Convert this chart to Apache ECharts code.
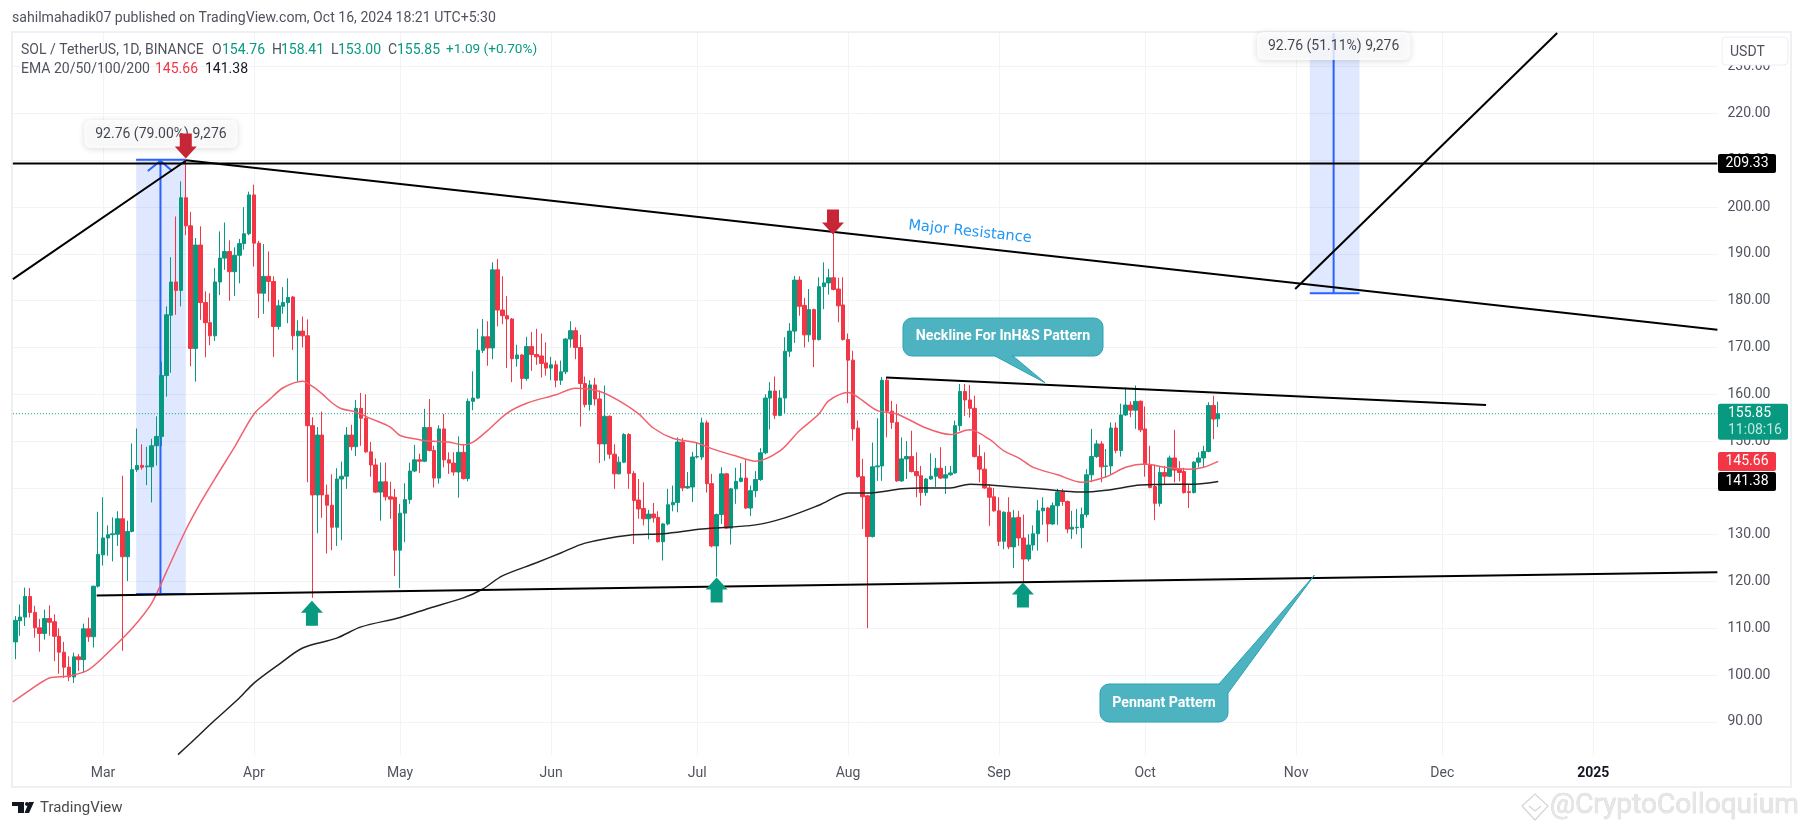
<!DOCTYPE html>
<html>
<head>
<meta charset="utf-8">
<title>SOL / TetherUS</title>
<script src="https://cdn.jsdelivr.net/npm/echarts@6/dist/echarts.min.js"></script>
<style>
	html, body { margin: 0; padding: 0; background: #fff; }
</style>
</head>
<body>
<div id="main" style="width: 1805px;height:828px;"></div>

<script type="text/javascript">
	// candles per month, each row is open, close, low, high
	var feb = [[107.1,111.7,103.4,112.6],[111.6,112.4,108.4,115.1],[112.4,116.8,110.5,118.7],[116.8,113.4,112.3,118.6],[113.4,110.1,108,114.8],[110.1,108.9,105,112],[108.9,112.1,107.6,114],[112.1,111.3,108.4,114.9],[111.4,108.3,103,113],[108.3,104.9,100.3,110],[104.9,101.7,99.4,107.1],[101.7,99.6,98.7,104],[99.6,103.9,98.3,104.8],[103.9,103.3,100.9,104.5],[103.3,109.9,100.5,111],[109.9,108.2,107.1,112.3],[108.2,119,105.9,119.1],[119,125.8,118.7,134.9]];
	var mar = [[125.7,129.3,123.4,138],[129.3,130,125.5,132],[130,130.2,124.3,133.7],[130.1,133.4,127.6,135],[133.4,125.3,105.2,142.6],[125.3,130.7,120.1,133],[130.7,143.9,130.5,149.5],[143.9,144.8,143.4,152.7],[144.8,144.4,143.9,149.3],[144.5,144.7,140.6,148.8],[144.5,149,136.9,150.5],[149,151,144.8,155.3],[151,164,148.9,167],[164,177,159.5,178.8],[176.9,184,164.6,189.3],[184,182.2,177,198],[182.2,202,178.8,205.5],[202,196,194,210],[196,169.8,166,199],[169.8,191.9,162.7,193.4],[191.9,179.6,175.9,195.9],[179.6,175.3,167.9,182],[175.3,172.5,170.5,181.6],[172.5,184,171.4,187],[184,189.1,181.2,194.8],[189.1,190.5,186.6,196.7],[190.5,186.2,180,192.9],[186.2,189.7,181,191.4],[189.7,192.2,183.7,193.2],[192.2,194.3,190.9,200],[194.3,202.6,194,203.3]];
	var apr = [[202.6,192.3,187.3,204.8],[192.3,181.6,176.3,192.8],[181.6,185.2,177.2,192.1],[185.2,184.1,179.8,190.5],[184.1,174.5,168,185.2],[174.5,178.9,173.8,180.2],[178.8,179.6,177.2,182.9],[179.6,180.7,175.2,184.8],[180.8,172.5,169.5,181],[172.5,173.5,162.7,175.8],[173.5,172.5,170,176.6],[172.5,153.3,141.2,176],[153.3,138.5,116.5,155.1],[138.5,151.3,130.3,153],[151.3,138.5,133.6,156.3],[138.5,136.3,126,140.7],[136.3,131.6,126.7,142.9],[131.6,141.9,127.6,144.2],[141.9,142.5,128.8,145.6],[142.5,151.3,139.8,153],[151.3,148.8,148,153.5],[148.8,157,146.8,158.8],[157,154.9,149,160.3],[154.9,147.7,147.5,160],[147.7,144.9,142.4,149.8],[144.9,139.1,138.9,146.3],[139.1,141.3,133,145.4],[141.3,138.1,137.3,145.4],[138.1,137.6,133.4,141.3],[138,126.7,121.2,139.8]];
	var may = [[126.7,134.6,118.6,136.6],[134.6,137.5,128.4,141],[137.5,143.6,136.6,145.4],[143.6,146,143.4,149.2],[146,145.7,143.2,147.3],[145.7,152.9,145.5,156.9],[152.9,148,147.8,159],[148,142.1,140.1,149],[142.1,152.6,140.9,153.4],[152.6,146,144.4,155.8],[146,145.3,143,147.6],[145.3,143.4,142.6,147.6],[143.4,147.6,137.9,151],[147.6,142,141.8,149.4],[142,158.5,141.4,159.1],[158.5,159.2,156.6,164.9],[159.2,169.4,159,174],[169.4,172.3,168.8,176.1],[172.3,169.9,166.1,175.6],[169.9,186.6,167.5,188.2],[186.6,178,174.5,188.9],[178,176.8,175,185.2],[176.8,176.1,165.6,181],[176.1,167.6,162.6,176.3],[167.6,168.4,165.9,170.6],[168.4,163.4,161.1,168.6],[163.4,170.2,162.9,172.3],[170.2,168.5,165,173.3],[168.5,168,166.3,174],[168.2,166.6,163.6,173],[166.7,165.6,164,171.1]];
	var jun = [[165.6,166.3,163,168],[166.3,163,161.5,167.2],[163,164.8,162,167.2],[164.8,171.8,164.3,172],[171.8,173.6,170,175.6],[173.6,170,167.5,174.3],[170,162.3,153.1,172.7],[162.3,157.8,157.2,163.8],[157.8,162,156.5,163],[162,159,157.6,163.5],[159,149.4,145.3,160.8],[149.4,155.3,145.8,161.9],[155.3,147.2,146.2,155.5],[147.2,143,139.8,149.3],[143,145.5,142.9,146.7],[145.5,151.4,145.3,151.7],[151.4,143.1,139.8,151.7],[143.1,137.3,128,143.6],[137.4,135.5,133.4,141.9],[135.6,133.4,132,141.2],[133.4,134.4,129,135.3],[134.4,133.6,132.6,136.8],[133.7,128.5,128.3,135],[128.5,132.3,124.5,132.5],[132.3,136.4,132,139.8],[136.4,136.9,135,140.5],[136.9,149.8,134.8,150.8],[149.8,140,139.3,150.7],[140,140.3,139.8,143.4],[140.2,146.6,137,147.7]];
	var jul = [[146.6,146.7,146.3,149.6],[146.6,153.9,146,155],[153.9,140.9,139,154.4],[140.9,127.6,127.3,143],[127.6,134.3,121,134.5],[134.3,143,132.3,144.4],[143,131.4,131.2,143.2],[131.4,139.8,127.9,140],[139.8,141.4,136.6,144.3],[141.4,142.1,141.2,145.3],[142.1,135.7,135.5,146.2],[135.7,139.4,134,140.5],[139.4,141.8,138,143.6],[141.8,147.5,141.5,148.5],[147.5,159.2,147.2,160],[159.2,160.7,152.5,162.6],[160.7,155.5,154.7,163.8],[155.5,159.2,155.3,160.9],[159.2,169.2,156,172.2],[169.2,173.5,168,175.2],[173.5,184.4,171,185.3],[184.4,178.8,176.8,185.2],[179,172.7,170,180.6],[172.7,178.1,171.2,182.5],[178.1,171.7,165.8,178.3],[171.7,183,171.5,185],[183,183.8,178.2,188.2],[183.8,184.9,181.3,186.8],[184.9,182.4,182.2,195],[182.5,178.9,175.4,184.9],[179.1,171.7,171.5,185]];
	var aug = [[171.7,167.3,158.1,173],[167.3,152.6,150.1,169.3],[152.8,142.4,142.2,154.4],[142.4,138.1,131.2,146.2],[138.3,129.6,110,138.5],[129.6,144.5,129.4,149.7],[144.5,144.7,141.5,154.9],[144.7,163,141.5,163.7],[163,156.4,150.8,163.6],[156.4,154,152.6,158.6],[154,141.5,141.3,157.9],[141.5,146.2,141.3,150.8],[146.2,146.7,141.9,150],[146.7,143.5,143.3,152.2],[143.5,142.6,138,147.6],[142.6,139,136.2,144.7],[139,141.9,138.3,142.1],[141.9,142.5,141.7,147.4],[142.5,144.2,140.2,146.4],[144.2,142.1,141.9,148.7],[142.1,142.8,138.7,144.7],[142.8,143.2,142.6,144.7],[143.2,153.3,143,154.4],[153.3,160.6,152.2,162.2],[160.6,158.8,155.4,162.2],[158.8,157,155,162],[157,146.7,146.5,159.7],[146.7,144,141.2,149.2],[144,140,139.8,147.6],[140,138,131.9,140.8],[138.1,135.1,134.9,140]];
	var sep = [[135.1,128.6,127.6,138],[128.6,134.8,126.9,135],[134.8,127.4,126.9,138],[127.4,133.6,122.9,135.3],[133.7,129.3,127.6,135.1],[129.3,124.8,120,134.3],[124.8,127.8,124.3,130.1],[127.8,130.2,126.6,132],[130.2,135.1,126.6,137.4],[135.1,135.7,132.1,138],[135.7,132.3,128.4,135.9],[132.3,136.2,132.1,136.9],[136.2,139.1,132.1,139.8],[139.1,137.1,136.2,139.8],[137.1,131.2,130.3,137.3],[131.2,131.6,129.1,135.1],[131.5,131.6,130.1,135.5],[131.5,134.3,127.1,135.8],[134.3,142.8,133.7,144],[142.8,146.7,141.2,152.6],[146.7,149.4,146.4,150.2],[149.4,144.5,141.2,150],[144.6,144.7,142.2,148.3],[144.7,152.8,142.8,154],[152.8,148,147.4,154],[148,155.6,146.7,158],[155.6,157.7,155.4,161.5],[157.7,156.6,155.1,158.5],[156.6,158.5,152.6,161.9],[158.5,152.4,151.9,158.7]];
	var oct = [[152.6,145,142.4,157.4],[145,140.1,139.9,149],[140.3,136.7,133.1,145],[136.7,143.3,136,144.7],[143.3,142.5,140.8,144.7],[142.5,146.4,142.3,146.9],[146.4,143.8,141.2,152.4],[144,143.3,141.4,145.7],[143.5,139,138.8,144.3],[139.2,139,135.7,140.8],[139,145.5,138.8,145.7],[145.5,146.4,144.4,147.6],[146.4,147.8,144.4,149],[147.8,157.6,147.6,158.3],[157.6,154.7,150.4,159.7],[154.76,155.85,153,158.41]];

	var ema50 = [[-18.5,94.3],[-15,96.8],[-11,99.4],[-7,99.8],[-3,101.1],[2,105.8],[6,110],[10,115.4],[13,122],[17,131],[20,136.8],[23,142],[27,148.7],[31,155.8],[34,158.7],[37,161.4],[41,162.8],[43,161.7],[45,160.1],[47,158.2],[49,156.9],[52,156.2],[55,154.8],[59,153],[61,151.2],[65,150.3],[67,150],[71,149.8],[74,149.2],[76,149.8],[79,152.3],[83,156],[87,158.1],[93,159.9],[97,161.3],[102,160.6],[106,158.6],[110,155.8],[113,152.8],[117,150.6],[122,149.6],[125,148.4],[130,146.8],[134,145.7],[139,147.9],[143,152.2],[147,155.8],[149,158.6],[153,160.4],[155,159.4],[159,156.5],[163,155.8],[169,152.8],[174,151.4],[178,152.4],[182,150.4],[185,147.9],[188,146.4],[191,144.4],[196,142.8],[201,141.2],[206,142.4],[210,144.4],[214,145.1],[218,144.4],[223,144],[226,144.4],[229,145.66]];
	var ema200 = [[15.4,83],[18,85.5],[23,90.4],[28,95.1],[31,98.3],[36,102.2],[41,105.8],[48,107.9],[53,110.3],[61,112.3],[67,114.3],[74,116.5],[78,118.4],[82,121.2],[89,124],[94,126.1],[99,128.2],[108,129.9],[115,130.2],[123,131.2],[134,132.1],[140,133.6],[147,136.3],[153,138.9],[157,138.9],[164,139.8],[168,140],[174,140],[178,140.8],[182,140.6],[192,139.8],[201,139.1],[206,139.5],[213,140.6],[220,140.8],[224,140.8],[229,141.38]];

	// drawings, same day numbering
	var resistanceHigh = [[-18.5,209.33],[331.5,209.33]];
	var leftRise = [[-18.5,184.6],[17,209.9]];
	var majorResistance = [[17,210],[331.5,173.8]];
	var rightRise = [[244.8,182.5],[298.6,237.2]];
	var neckline = [[160.8,163.6],[284,157.7]];
	var pennantBase = [[-1.3,117],[331.5,122]];
	var lastPrice = [[-18.5,155.85],[331.5,155.85]];

	var leftMeasure = [[11.8,117.34],[11.8,210.1]];
	var leftCapTop = [[6.8,210.1],[17,210.1]];
	var leftCapBottom = [[6.8,117.34],[17,117.34]];
	var leftChevron = [[9.2,207.7],[11.8,209.9],[14.2,207.7]];
	var rightMeasure = [[252.7,181.6],[252.7,237.2]];
	var rightCapBottom = [[247.8,181.6],[258,181.6]];

	var measureNotes = [[11.9,215.6,'92.76 (79.00%) 9,276'],[252.7,234.4,'92.76 (51.11%) 9,276']];
	var downArrows = [[17,213.05],[149.9,196.8]];
	var upArrows = [[42.9,113.2],[126,118.2],[188.9,117.1]];

	var monthDays = [0,31,61,92,122,153,184,214,245,275,306];
	var monthNames = ['Mar','Apr','May','Jun','Jul','Aug','Sep','Oct','Nov','Dec','2025'];
	var priceTicks = [90,100,110,120,130,140,150,160,170,180,190,200,210,220,230];

	var GREEN = '#089981', RED = '#f23645', BLUE = '#2962ff', TEAL = '#4db3c0';
	var FONT = 'Roboto';

	var candles = feb.concat(mar, apr, may, jun, jul, aug, sep, oct);
	var days = [];
	for (var d = -18; d <= 331; d++) {
		var dt = new Date(Date.UTC(2024, 2, 1 + d));
		days.push(dt.toISOString().slice(0, 10));
	}

	function drawing(points, color, width, z, type, smooth) {
		return {
			type: 'line', xAxisIndex: 1, yAxisIndex: 0, data: points, symbol: 'none', silent: true, z: z, smooth: smooth || false,
			lineStyle: { color: color, width: width, type: type || 'solid' }
		};
	}

	var myChart = echarts.init(document.getElementById('main'));

	myChart.setOption({
		animation: false,
		backgroundColor: '#fff',
		grid: { left: 12.9, right: 87.6, top: 33, bottom: 73, containLabel: false },
		xAxis: [{
			type: 'category', data: days, show: false
		}, {
			type: 'value', min: -18.5, max: 331.5, position: 'bottom',
			axisLine: { show: false },
			axisTick: { show: false, customValues: monthDays },
			splitLine: { show: true, lineStyle: { color: '#f1f3f7', width: 1 } },
			axisLabel: {
				customValues: monthDays, margin: 11, fontSize: 14, fontFamily: FONT, color: '#50535e',
				formatter: function(v) {
					var name = monthNames[monthDays.indexOf(v)];
					return name === '2025' ? '{year|2025}' : name;
				},
				rich: { year: { fontSize: 14, fontFamily: FONT, fontWeight: 'bold', color: '#131722' } }
			}
		}],
		yAxis: [{
			type: 'value', position: 'right', min: 82.93, max: 237.2, scale: true,
			axisLine: { show: false },
			axisTick: { show: false, customValues: priceTicks },
			splitLine: { show: true, lineStyle: { color: '#f1f3f7', width: 1 } },
			axisLabel: {
				customValues: priceTicks, margin: 10, fontSize: 14, fontFamily: FONT, color: '#50535e',
				formatter: function(v) { return v.toFixed(2); }
			}
		}],
		series: [
			{
				type: 'line', xAxisIndex: 1, yAxisIndex: 0, data: [], silent: true, z: 1,
				markArea: {
					silent: true,
					itemStyle: { color: 'rgba(41,98,255,0.15)' },
					data: [
						[{ coord: [leftCapBottom[0][0], leftCapTop[0][1]] }, { coord: [leftCapBottom[1][0], leftCapBottom[0][1]] }],
						[{ coord: [rightCapBottom[0][0], rightMeasure[1][1]] }, { coord: [rightCapBottom[1][0], rightCapBottom[0][1]] }]
					]
				}
			},
			drawing(leftMeasure, BLUE, 2, 2),
			drawing(leftCapTop, BLUE, 2, 2),
			drawing(leftCapBottom, BLUE, 2, 2),
			drawing(leftChevron, BLUE, 2, 2),
			drawing(rightMeasure, BLUE, 2, 2),
			drawing(rightCapBottom, BLUE, 2, 2),
			drawing(lastPrice, GREEN, 1, 2, [1, 2]),
			{
				type: 'candlestick', xAxisIndex: 0, yAxisIndex: 0, data: candles, barWidth: 4, z: 3, silent: true,
				itemStyle: { color: GREEN, color0: RED, borderColor: GREEN, borderColor0: RED, borderWidth: 1 }
			},
			drawing(ema50, '#f2606c', 1.5, 4, null, 0.3),
			drawing(ema200, '#222222', 1.5, 4, null, 0.3),
			drawing(resistanceHigh, '#000', 2, 5),
			drawing(leftRise, '#000', 2, 5),
			drawing(majorResistance, '#000', 2, 5),
			drawing(rightRise, '#000', 2, 5),
			drawing(neckline, '#000', 2, 5),
			drawing(pennantBase, '#000', 2, 5),
			{
				type: 'scatter', xAxisIndex: 1, yAxisIndex: 0, symbolSize: 1, silent: true, z: 6,
				data: measureNotes,
				itemStyle: { color: 'transparent' },
				label: {
					show: true, position: 'inside', fontSize: 14, fontFamily: FONT, color: '#131722',
					backgroundColor: '#fff', borderRadius: 6, padding: [7, 11], shadowBlur: 6, shadowColor: 'rgba(0,0,0,0.18)', shadowOffsetY: 1,
					formatter: function(p) { return p.value[2]; }
				}
			},
			{
				type: 'scatter', xAxisIndex: 1, yAxisIndex: 0, data: downArrows, silent: true, z: 7,
				symbol: 'path://M5 0H17V13H22L11 25L0 13H5Z', symbolSize: [22, 25], symbolKeepAspect: false,
				itemStyle: { color: '#c62636', opacity: 1 }
			},
			{
				type: 'scatter', xAxisIndex: 1, yAxisIndex: 0, data: upArrows, silent: true, z: 7,
				symbol: 'path://M5 25H17V12H22L11 0L0 12H5Z', symbolSize: [22, 25], symbolKeepAspect: false,
				itemStyle: { color: GREEN, opacity: 1 }
			}
		]
	});

	// badges follow the price scale
	function priceY(p) {
		return myChart.convertToPixel({ yAxisIndex: 0 }, p);
	}
	function badge(price, h, color, text) {
		var y = priceY(price);
		return [
			{ type: 'rect', z: 50, shape: { x: 1718, y: y - h / 2, width: 58, height: h, r: 2 }, style: { fill: color } },
			{ type: 'text', z: 51, x: 1747, y: y, style: { text: text, fill: '#fff', fontSize: 14, fontFamily: FONT, align: 'center', verticalAlign: 'middle' } }
		];
	}
	function txt(x, y, text, color, size, extra) {
		var style = { text: text, fill: color, fontSize: size || 14, fontFamily: FONT, align: 'left', verticalAlign: 'middle' };
		for (var k in extra) { style[k] = extra[k]; }
		return { type: 'text', z: 60, x: x, y: y, style: style };
	}

	var TXT = '#50535e';
	var elements = [
		{ type: 'rect', z: 0, shape: { x: 12, y: 32, width: 1779, height: 755 }, style: { fill: 'transparent', stroke: '#eef0f4', lineWidth: 2 } },
		txt(12, 18, 'sahilmahadik07 published on TradingView.com, Oct 16, 2024 18:21 UTC+5:30', TXT, 14.1),
		txt(21, 50, 'SOL / TetherUS, 1D, BINANCE', TXT),
		txt(212, 50, 'O', TXT), txt(222, 50, '154.76', GREEN),
		txt(272, 50, 'H', TXT), txt(281, 50, '158.41', GREEN),
		txt(331, 50, 'L', TXT), txt(338, 50, '153.00', GREEN),
		txt(388, 50, 'C', TXT), txt(397, 50, '155.85', GREEN),
		txt(446, 50, '+1.09 (+0.70%)', GREEN, 13.6),
		txt(21, 69, 'EMA 20/50/100/200', TXT),
		txt(155, 69, '145.66', RED),
		txt(205, 69, '141.38', '#131722'),

		// callouts
		{ type: 'rect', z: 40, shape: { x: 903, y: 318, width: 200, height: 38, r: 9 }, style: { fill: TEAL, stroke: '#2aa3b3', lineWidth: 1 } },
		{ type: 'polygon', z: 40, shape: { points: [[995, 356], [1013, 356], [1045, 382.7]] }, style: { fill: TEAL, stroke: '#2aa3b3', lineWidth: 1 } },
		{ type: 'line', z: 41, shape: { x1: 996, y1: 356, x2: 1012, y2: 356 }, style: { stroke: TEAL, lineWidth: 2 } },
		txt(1003, 336, 'Neckline For InH&S Pattern', '#fff', 14.2, { align: 'center', fontWeight: 'bold' }),
		{ type: 'rect', z: 40, shape: { x: 1100, y: 684, width: 128, height: 38, r: 9 }, style: { fill: TEAL, stroke: '#2aa3b3', lineWidth: 1 } },
		{ type: 'polygon', z: 40, shape: { points: [[1219, 684], [1228, 693], [1314.5, 575]] }, style: { fill: TEAL, stroke: '#2aa3b3', lineWidth: 1 } },
		{ type: 'line', z: 41, shape: { x1: 1219, y1: 685, x2: 1227, y2: 693 }, style: { stroke: TEAL, lineWidth: 3 } },
		txt(1164, 703, 'Pennant Pattern', '#fff', 14.2, { align: 'center', fontWeight: 'bold' }),
		{ type: 'text', z: 60, x: 970, y: 232, rotation: -Math.PI / 30, style: { text: 'Major Resistance', fill: '#2196f3', fontSize: 14.6, fontFamily: 'DejaVu Sans', align: 'center', verticalAlign: 'middle' } },

		// USDT button
		{ type: 'rect', z: 60, shape: { x: 1722, y: 37, width: 66, height: 28, r: 4 }, style: { fill: '#fff', stroke: '#eceef2', lineWidth: 1 } },
		{ type: 'text', z: 61, x: 1730, y: 52, style: { text: 'USDT', fill: TXT, fontSize: 14, fontFamily: FONT, align: 'left', verticalAlign: 'middle' } },

		// footer
		{ type: 'polygon', z: 60, shape: { points: [[12, 802], [24, 802], [24, 813], [18, 813], [18, 806], [12, 806]] }, style: { fill: '#131722' } },
		{ type: 'circle', z: 60, shape: { cx: 27, cy: 804, r: 2 }, style: { fill: '#131722' } },
		{ type: 'polygon', z: 60, shape: { points: [[29, 802], [34, 802], [29, 813], [24.5, 813]] }, style: { fill: '#131722' } },
		txt(40, 808, 'TradingView', '#4a4a4a', 15),
		txt(1550, 806, '@CryptoColloquium', '#e6e6e6', 28, { stroke: '#d2d2d2', lineWidth: 0.6 }),
		{ type: 'polyline', z: 60, shape: { points: [[1522, 806], [1535, 794], [1548, 806], [1535, 820], [1522, 806]] }, style: { fill: 'none', stroke: '#d5d5d5', lineWidth: 1.2 } },
		{ type: 'polyline', z: 60, shape: { points: [[1529, 806], [1535, 811], [1541, 806]] }, style: { fill: 'none', stroke: '#d5d5d5', lineWidth: 1.2 } }
	];

	elements = elements.concat(
		badge(209.33, 19, '#000', '209.33'),
		badge(145.66, 19, RED, '145.66'),
		badge(141.38, 19, '#000', '141.38')
	);
	var lastY = priceY(155.85);
	elements.push(
		{ type: 'rect', z: 50, shape: { x: 1718, y: lastY - 10, width: 70, height: 36, r: 2 }, style: { fill: GREEN } },
		txt(1728, lastY, '155.85', '#fff'),
		txt(1728, lastY + 17, '11:08:16', 'rgba(255,255,255,0.75)')
	);

	myChart.setOption({ graphic: { elements: elements } });
</script>
</body>
</html>
